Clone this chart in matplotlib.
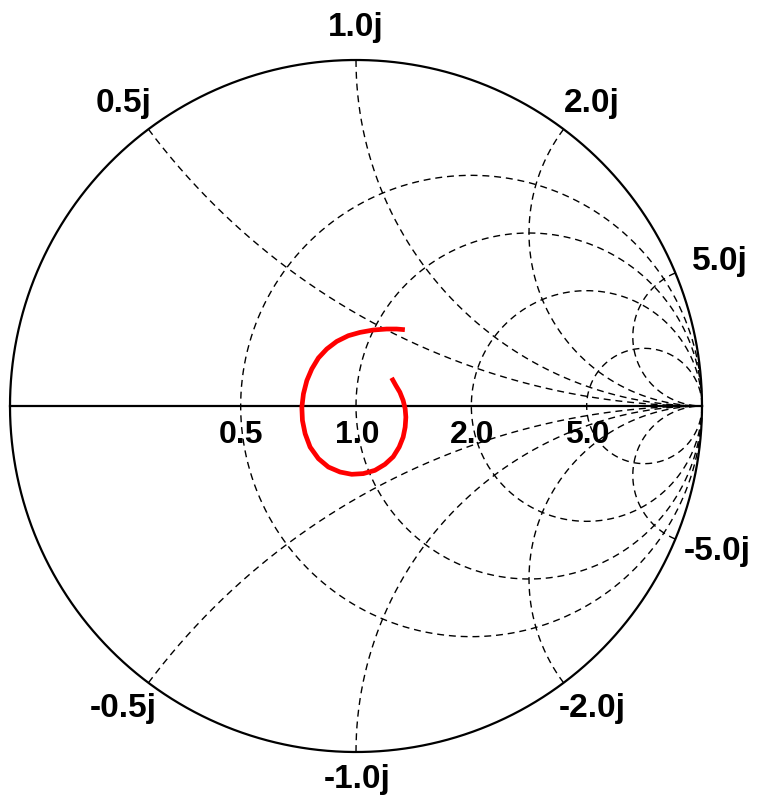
import numpy as np
import matplotlib
matplotlib.use("Agg")
import matplotlib.pyplot as plt

# --- data ---
resistance_values = [0.5, 1.0, 2.0, 5.0]
reactance_values = [0.5, 1.0, 2.0, 5.0]
resistance_labels = ["0.5", "1.0", "2.0", "5.0"]
reactance_labels = ["0.5j", "1.0j", "2.0j", "5.0j"]
neg_reactance_labels = ["-0.5j", "-1.0j", "-2.0j", "-5.0j"]

# reflection-coefficient trace (real, imag)
trace_re = [0.1029, 0.1153, 0.1268, 0.1363, 0.1421, 0.1441, 0.1421, 0.1363, 0.1248,
            0.1075, 0.0836, 0.0548, 0.0210, -0.0124, -0.0461, -0.0798, -0.1086,
            -0.1326, -0.1470, -0.1548, -0.1565, -0.1519, -0.1421, -0.1277, -0.1086,
            -0.0844, -0.0556, -0.0222, 0.0115, 0.0499, 0.0885, 0.1173, 0.1412]
trace_im = [0.0813, 0.0591, 0.0398, 0.0159, -0.0081, -0.0323, -0.0611, -0.0899, -0.1187,
            -0.1467, -0.1686, -0.1859, -0.1954, -0.1974, -0.1908, -0.1764, -0.1522,
            -0.1187, -0.0801, -0.0418, -0.0035, 0.0352, 0.0735, 0.1072, 0.1389,
            0.1648, 0.1867, 0.2032, 0.2127, 0.2196, 0.2225, 0.2225, 0.2205]

plt.rcParams['font.family'] = ['Liberation Sans', 'DejaVu Sans']

W, H = 759, 805
CX, CY, R = 356.0, 406.0, 346.0

fig = plt.figure(figsize=(W/100, H/100), dpi=100)
ax = fig.add_axes([0, 0, 1, 1])
ax.set_xlim(-CX/R, (W-CX)/R)
ax.set_ylim(-(H-CY)/R, CY/R)
ax.axis('off')

def px(x, y):
    """pixel (from top-left) -> data coords"""
    return (x - CX)/R, (CY - y)/R

def gamma(z):
    return (z - 1) / (z + 1)

dash = (0, (5, 3.5))
gcol = 'black'

# resistance circles
t = np.linspace(-np.pi/2 + 1e-4, np.pi/2 - 1e-4, 3000)
for r in resistance_values:
    g = gamma(r + 1j*np.tan(t))
    ax.plot(g.real, g.imag, color=gcol, lw=1.0, ls=dash)

# reactance arcs
s = np.linspace(0, np.pi/2 - 1e-4, 3000)
for x in reactance_values:
    for sign in (1, -1):
        g = gamma(np.tan(s) + 1j*sign*x)
        ax.plot(g.real, g.imag, color=gcol, lw=1.0, ls=dash)

# outer circle and real axis
th = np.linspace(0, 2*np.pi, 1000)
ax.plot(np.cos(th), np.sin(th), color='black', lw=1.6)
ax.plot([-1, 1], [0, 0], color='black', lw=1.6)

# trace
ax.plot(trace_re, trace_im, color='#ff0000', lw=3.4, solid_capstyle='butt',
        solid_joinstyle='round')

tk = dict(ha='center', va='baseline', fontweight='bold')

# resistance labels (baseline pixel row 443)
res_px_x = [241, 357, 472, 587]
for xp, lab in zip(res_px_x, resistance_labels):
    ax.text(*px(xp, 443), lab, fontsize=23, **tk)

# reactance labels placement (pixel centres / baselines)
pos_px = [(123.5, 112), (356, 36), (592, 112), (720, 270)]
neg_px = [(123, 717), (357, 788), (592, 717), (717, 560)]
for (p, lab) in zip(pos_px, reactance_labels):
    ax.text(*px(*p), lab, fontsize=24, **tk)
for (p, lab) in zip(neg_px, neg_reactance_labels):
    ax.text(*px(*p), lab, fontsize=24, **tk)

fig.savefig('out.png', dpi=100)
